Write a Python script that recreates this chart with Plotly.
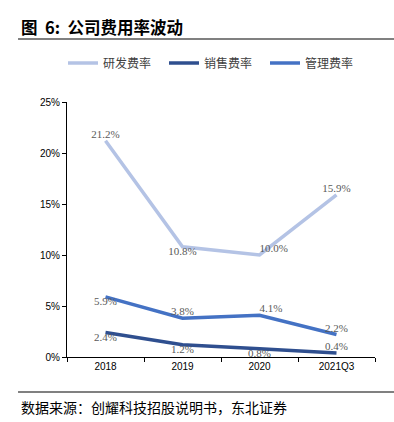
import plotly.graph_objects as go

categories = ["2018", "2019", "2020", "2021Q3"]
rd_rate = [21.2, 10.8, 10.0, 15.9]
sales_rate = [2.4, 1.2, 0.8, 0.4]
admin_rate = [5.9, 3.8, 4.1, 2.2]
y_ticks = [0, 5, 10, 15, 20, 25]
y_tick_labels = ["0%", "5%", "10%", "15%", "20%", "25%"]

rd_pos = ["top center", "bottom center", "top right", "top center"]
sales_pos = ["bottom center", "bottom center", "bottom center", "top center"]
admin_pos = ["bottom center", "top center", "top right", "top center"]

label_font = dict(family="Liberation Serif, Times New Roman, serif", size=11, color="#595959")
cjk = "Noto Sans CJK SC"

def fmt(vals):
    return [f"{v:.1f}%" for v in vals]

fig = go.Figure()
fig.add_trace(go.Scatter(x=categories, y=rd_rate, name="研发费率", mode="lines+text",
                         line=dict(color="#B4C3E5", width=3.5), text=fmt(rd_rate),
                         textposition=rd_pos, textfont=label_font, cliponaxis=False))
fig.add_trace(go.Scatter(x=categories, y=sales_rate, name="销售费率", mode="lines+text",
                         line=dict(color="#2F4F8F", width=3.5), text=fmt(sales_rate),
                         textposition=sales_pos, textfont=label_font, cliponaxis=False))
fig.add_trace(go.Scatter(x=categories, y=admin_rate, name="管理费率", mode="lines+text",
                         line=dict(color="#4472C4", width=3.5), text=fmt(admin_rate),
                         textposition=admin_pos, textfont=label_font, cliponaxis=False))

fig.update_layout(
    width=394, height=422,
    margin=dict(l=67, r=19, t=102, b=65),
    paper_bgcolor="white", plot_bgcolor="white",
    showlegend=True,
    legend=dict(orientation="h", x=63 / 394, xref="container", xanchor="left",
                y=1 - 63 / 422, yanchor="middle", yref="container",
                font=dict(family=cjk, size=12, color="#404040"),
                entrywidth=56, entrywidthmode="pixels", itemwidth=30,
                bgcolor="rgba(0,0,0,0)"),
    xaxis=dict(type="category", range=[-0.5, 3.5], showline=True, linecolor="black", linewidth=1,
               ticks="outside", tickson="boundaries", ticklen=4, tickcolor="black",
               showgrid=False, automargin=False,
               tickfont=dict(family="Liberation Sans, Arial", size=10, color="black")),
    yaxis=dict(range=[0, 25], tickvals=y_ticks, ticktext=y_tick_labels, showline=True,
               linecolor="black", linewidth=1, ticks="outside", ticklen=4, tickcolor="black",
               showgrid=False, zeroline=False, automargin=False,
               tickfont=dict(family="Liberation Sans, Arial", size=10, color="black")),
)

# title & source
fig.add_annotation(text="<b>图  6:  公司费用率波动</b>", xref="paper", yref="paper",
                   x=-0.155, y=1.0, yanchor="middle", xanchor="left",
                   yshift=(357 - 27) - 255, showarrow=False,
                   font=dict(family=cjk, size=16.5, color="black"))
fig.add_annotation(text="数据来源：创耀科技招股说明书，东北证券", xref="paper", yref="paper",
                   x=-0.155, y=0, yanchor="middle", xanchor="left",
                   yshift=-(407 - 357), showarrow=False,
                   font=dict(family=cjk, size=14, color="black"))
fig.add_shape(type="line", xref="paper", yref="paper", x0=-0.159, x1=1.062,
              y0=(422 - 39 - 65) / 255, y1=(422 - 39 - 65) / 255,
              line=dict(color="#808080", width=2))
fig.add_shape(type="line", xref="paper", yref="paper", x0=-0.159, x1=1.062,
              y0=(422 - 392 - 65) / 255, y1=(422 - 392 - 65) / 255,
              line=dict(color="#808080", width=2))

fig.write_html("out.html", config={"displayModeBar": False},
               post_script="document.body.style.margin='0';document.body.style.overflow='hidden';")
